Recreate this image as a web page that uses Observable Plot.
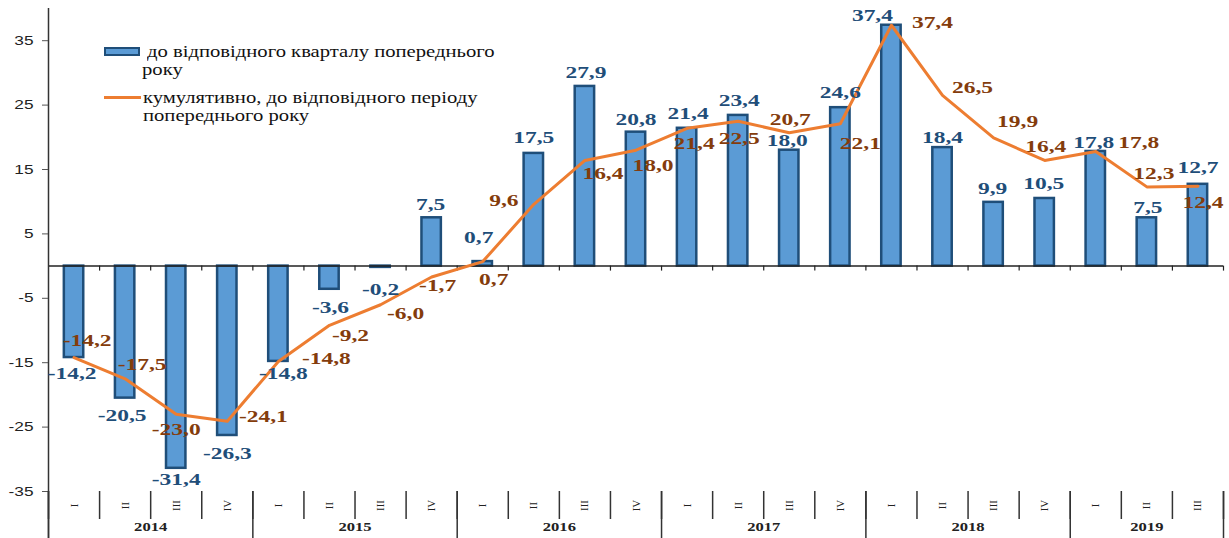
<!DOCTYPE html>
<html><head><meta charset="utf-8">
<script src="https://cdn.jsdelivr.net/npm/d3@7"></script>
<script src="https://cdn.jsdelivr.net/npm/@observablehq/plot@0.6"></script>
<style>
html,body{margin:0;padding:0;background:#fff;}
#wrap{position:relative;width:1229px;height:538px;overflow:hidden;}
.lg{position:absolute;font-family:"Liberation Serif",serif;font-size:16px;color:#111;transform-origin:0 50%;transform:scaleX(1.29);white-space:nowrap;line-height:17px;}
.sw{position:absolute;box-sizing:border-box;}
</style></head><body><div id="wrap"></div>
<script>
// ---- data ----
const yearOfQuarter = ["2014","2014","2014","2014","2015","2015","2015","2015","2016","2016","2016","2016","2017","2017","2017","2017","2018","2018","2018","2018","2019","2019","2019"];
const quarterLabels = ["I","II","III","IV","I","II","III","IV","I","II","III","IV","I","II","III","IV","I","II","III","IV","I","II","III"];
const yoyValues = [-14.2,-20.5,-31.4,-26.3,-14.8,-3.6,-0.2,7.5,0.7,17.5,27.9,20.8,21.4,23.4,18.0,24.6,37.4,18.4,9.9,10.5,17.8,7.5,12.7];
const cumValues = [-14.2,-17.5,-23.0,-24.1,-14.8,-9.2,-6.0,-1.7,0.7,9.6,16.4,18.0,21.4,22.5,20.7,22.1,37.4,26.5,19.9,16.4,17.8,12.3,12.4];
const yTicks = [-35,-25,-15,-5,5,15,25,35];
const legendBar = "до відповідного кварталу попереднього";
const legendBar2 = "року";
const legendLine = "кумулятивно, до відповідного періоду";
const legendLine2 = "попереднього року";

// ---- label layout (pixel offsets from anchor) ----
const barLabelOffsets = [[-2,16],[-3,17],[0,11],[0,18],[5,12],[1,18],[0,22],[-1,-13],[-4,-24],[0,-16],[1,-14],[0,-13],[1,-15],[1,-15],[-2,-10],[0,-15],[-19,-10],[0,-10],[-1,-14],[-1,-15],[-2,-9],[1,-10],[0,-17]];
const lineLabelOffsets = [[13,-17],[17,-14],[0,15],[36,-5],[48,-3],[21,10],[25,9],[6,9],[11,18],[-30,-4],[18,13],[17,15],[7,15],[1,17],[1,-13],[20,20],[41,-3],[30,-8],[24,-16],[1,-14],[43,-9],[7,-13],[5,16]];

const rows = quarterLabels.map((q, i) => ({i, q, year: yearOfQuarter[i], yoy: yoyValues[i], cum: cumValues[i]}));
const yearGroups = d3.groups(rows, d => d.year).map(([year, rs]) => ({year, start: rs[0].i, end: rs[rs.length - 1].i + 1}));
const yearBounds = [0, ...yearGroups.map(g => g.end)];
const fmt = v => v.toFixed(1).replace(".", ",");

const BAR_FILL = "#5B9BD5", BAR_STROKE = "#1F4E79", LINE = "#ED7D31";
const BAR_TXT = "#1F4E79", LINE_TXT = "#843C0C";
const LBL = {fontFamily: "Liberation Serif", fontSize: 17, fontWeight: "bold"};

const labelMarks = [];
rows.forEach((r, k) => {
  labelMarks.push(Plot.text([r], {x: d => d.i + 0.5, y: d => d.yoy, text: d => fmt(d.yoy), dx: barLabelOffsets[k][0], dy: barLabelOffsets[k][1], fill: BAR_TXT, ...LBL}));
  labelMarks.push(Plot.text([r], {x: d => d.i + 0.5, y: d => d.cum, text: d => fmt(d.cum), dx: lineLabelOffsets[k][0], dy: lineLabelOffsets[k][1], fill: LINE_TXT, ...LBL}));
});

const chart = Plot.plot({
  width: 1229, height: 538,
  marginLeft: 48, marginRight: 6, marginTop: 8, marginBottom: 47,
  x: {domain: [0, rows.length], label: null},
  y: {domain: [-35, 40], label: null},
  style: {fontFamily: "Liberation Serif", fontSize: "12px", color: "#222", background: "#fff", overflow: "visible"},
  marks: [
    Plot.rect(rows, {x1: d => d.i + 0.31, x2: d => d.i + 0.69, y1: 0, y2: d => d.yoy, fill: BAR_FILL, stroke: BAR_STROKE, strokeWidth: 2.5}),
    Plot.ruleY([0], {stroke: "#222", strokeWidth: 1.5}),
    Plot.ruleX(d3.range(1, rows.length + 1), {x: d => d, y1: 0, y2: 0, insetBottom: -5, stroke: "#222", strokeWidth: 1.2}),
    Plot.lineY(rows, {x: d => d.i + 0.5, y: d => d.cum, stroke: LINE, strokeWidth: 3}),
    Plot.ruleX([0], {insetBottom: -47, stroke: "#333", strokeWidth: 1.5}),
    Plot.axisY({ticks: yTicks, tickSize: 6, tickPadding: 9, tickFormat: d => String(d), fontSize: 12.5, fontFamily: "Liberation Sans", label: null, stroke: "#555"}),
    Plot.axisX({ticks: d3.range(0, rows.length + 1), tickSize: 28, tickFormat: () => "", label: null, strokeWidth: 1.5, stroke: "#333"}),
    Plot.axisX({ticks: yearBounds, tickSize: 47, tickFormat: () => "", label: null, strokeWidth: 1.5, stroke: "#333"}),
    Plot.text(rows, {x: d => d.i + 0.5, frameAnchor: "bottom", dy: 14, text: d => d.q, rotate: -90, textAnchor: "middle", lineAnchor: "middle", fontSize: 11, fontFamily: "Liberation Serif", fill: "#222"}),
    Plot.text(yearGroups, {x: d => (d.start + d.end) / 2, frameAnchor: "bottom", dy: 39, text: d => d.year, fontWeight: "bold", fontSize: 12, fontFamily: "Liberation Serif", fill: "#222"}),
    ...labelMarks
  ]
});

// horizontal stretch of non-rotated text (scale about each text's anchor)
chart.querySelectorAll("text").forEach(t => {
  const tr = t.getAttribute("transform") || "";
  if (tr.includes("rotate")) return;
  t.setAttribute("transform", (tr + " scale(1.38,1)").trim());
});

const wrap = document.getElementById("wrap");
wrap.appendChild(chart);
function add(cls, css, txt) { const d = document.createElement("div"); d.className = cls; Object.assign(d.style, css); if (txt) d.textContent = txt; wrap.appendChild(d); }
add("sw", {left: "104px", top: "47px", width: "36px", height: "9px", background: BAR_FILL, border: "2.5px solid " + BAR_STROKE});
add("lg", {left: "147px", top: "43px"}, legendBar);
add("lg", {left: "142px", top: "61px"}, legendBar2);
add("sw", {left: "104px", top: "96px", width: "37px", height: "3px", background: LINE});
add("lg", {left: "143px", top: "89px"}, legendLine);
add("lg", {left: "143px", top: "107px"}, legendLine2);
</script></body></html>
